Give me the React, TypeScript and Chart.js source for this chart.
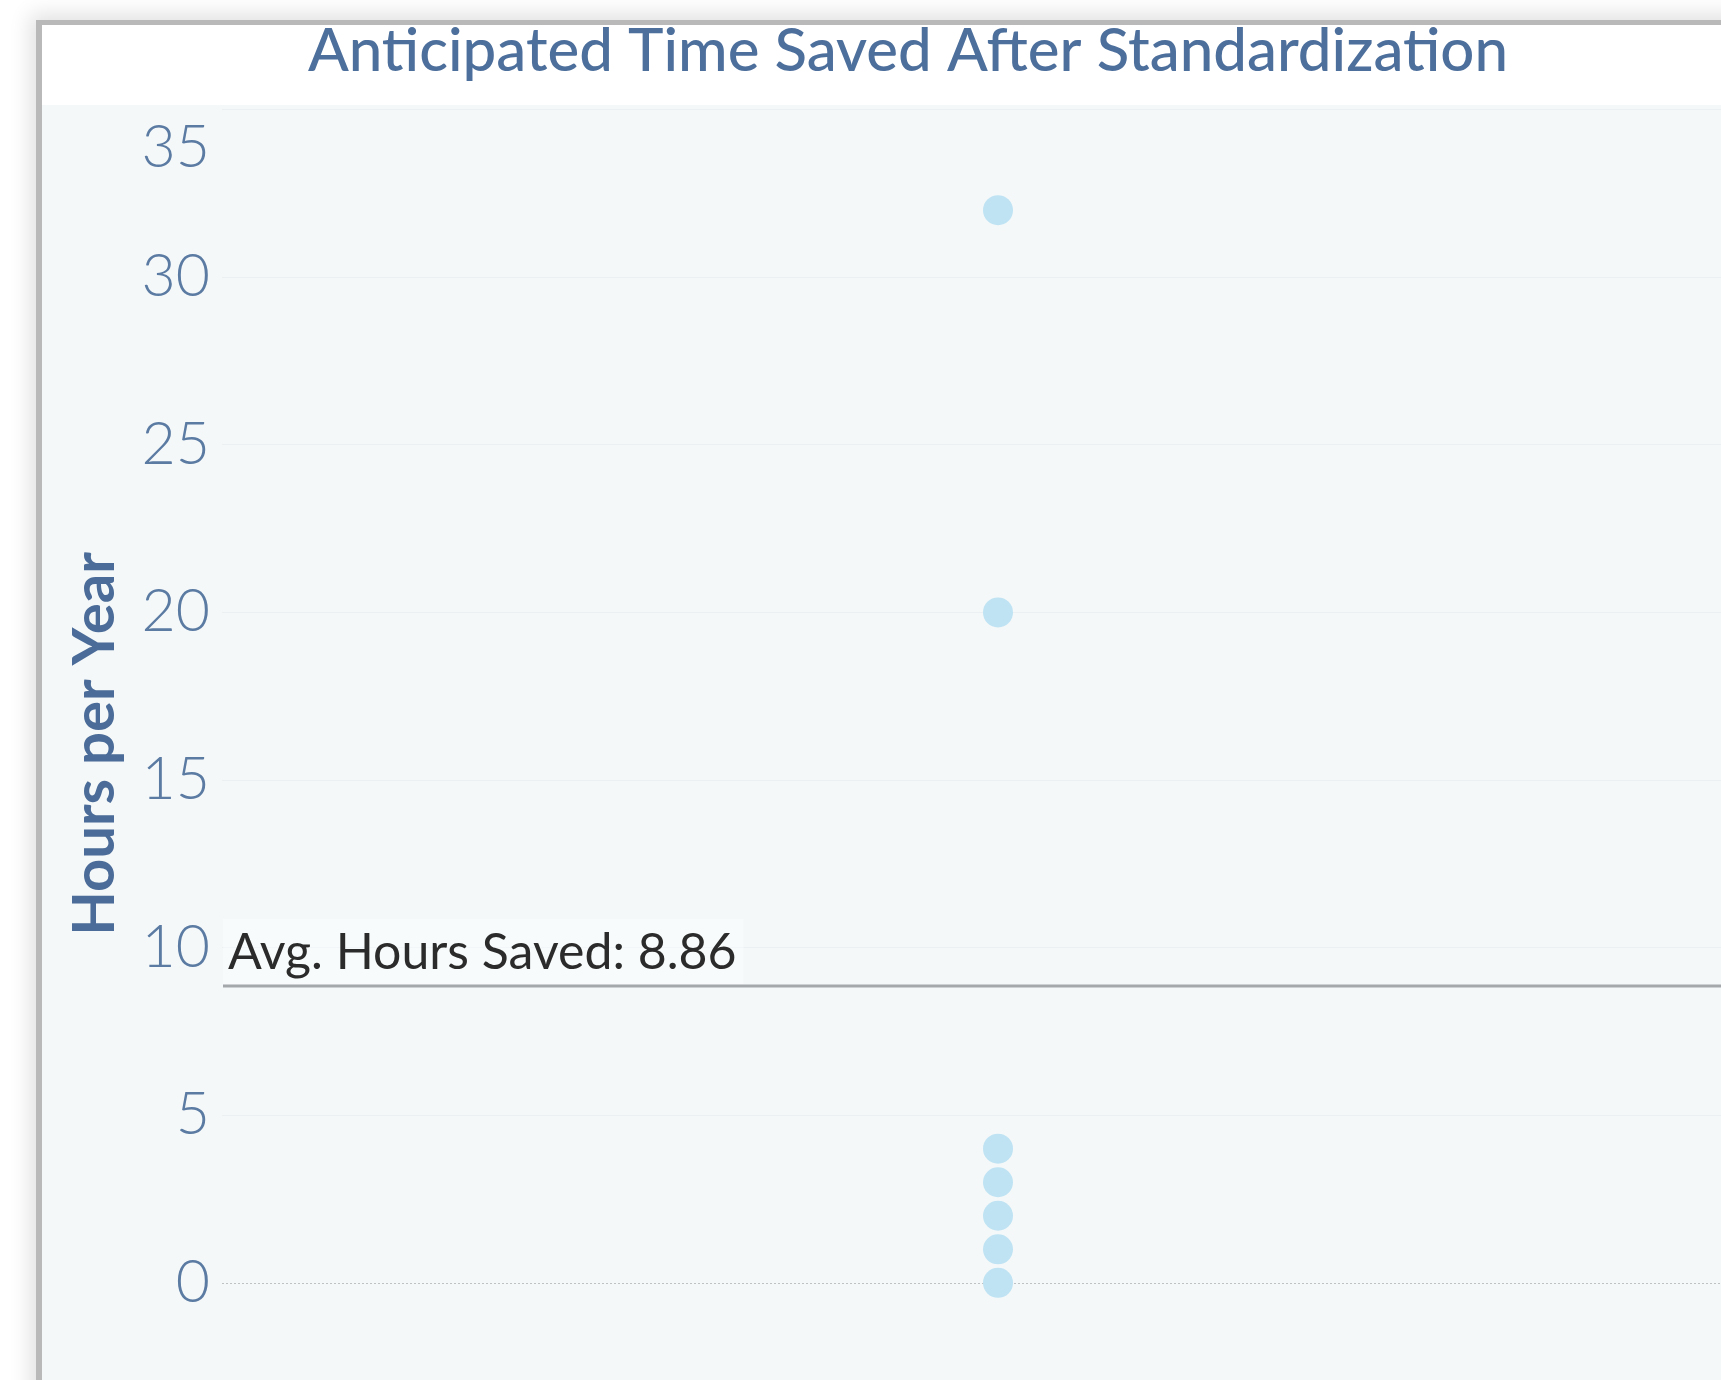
import { useEffect, useRef } from 'react';
import { Chart, registerables } from 'chart.js';

Chart.register(...registerables);

// ---- data ----
const categories = ['All Processes'];
const hoursSaved = [32, 20, 4, 3, 2, 1, 0];
const yTicks = [0, 5, 10, 15, 20, 25, 30, 35];
const yMin = -2.9;
const yMax = 35.05;
const titleText = 'Anticipated Time Saved After Standardization';
const yAxisTitle = 'Hours per Year';
const avgLabelPrefix = 'Avg. Hours Saved: ';

const FONT = 'Lato, "Open Sans", sans-serif';

const avgValue = hoursSaved.reduce((a, b) => a + b, 0) / hoursSaved.length;

const bgPlugin = {
  id: 'bgPlugin',
  beforeDraw(chart: any) {
    const { ctx, width, height, chartArea } = chart;
    ctx.save();
    ctx.fillStyle = '#ffffff';
    ctx.fillRect(0, 0, width, height);
    ctx.fillStyle = '#F4F8F9';
    ctx.fillRect(0, chartArea.top - 3, width, height - chartArea.top + 3);
    ctx.restore();
  },
};

const refLines = {
  id: 'refLines',
  beforeDatasetsDraw(chart: any) {
    const { ctx, chartArea } = chart;
    const y = chart.scales.y;
    ctx.save();
    // zero line (dotted)
    const y0 = Math.round(y.getPixelForValue(0)) + 0.5;
    ctx.strokeStyle = '#bfc2c4';
    ctx.lineWidth = 1;
    ctx.setLineDash([2, 2]);
    ctx.beginPath();
    ctx.moveTo(chartArea.left, y0);
    ctx.lineTo(chartArea.right, y0);
    ctx.stroke();
    // average line
    const ya = y.getPixelForValue(avgValue);
    ctx.setLineDash([]);
    ctx.strokeStyle = '#a4a8ab';
    ctx.lineWidth = 3;
    ctx.beginPath();
    ctx.moveTo(chartArea.left + 1, ya);
    ctx.lineTo(chartArea.right, ya);
    ctx.stroke();
    ctx.restore();
  },
  afterDatasetsDraw(chart: any) {
    const { ctx, chartArea } = chart;
    const y = chart.scales.y;
    const ya = y.getPixelForValue(avgValue);
    const text = avgLabelPrefix + avgValue.toFixed(2);
    ctx.save();
    ctx.font = `400 50px ${FONT}`;
    const w = ctx.measureText(text).width;
    ctx.fillStyle = 'rgba(255,255,255,0.4)';
    ctx.fillRect(chartArea.left + 1, ya - 67, w + 12, 65);
    ctx.fillStyle = '#2b2b2b';
    ctx.textBaseline = 'alphabetic';
    ctx.textAlign = 'left';
    ctx.fillText(text, chartArea.left + 6, ya - 17);
    ctx.restore();
  },
};

export default function App() {
  const ref = useRef<HTMLCanvasElement | null>(null);

  useEffect(() => {
    if (!ref.current) return;
    const chart = new Chart(ref.current, {
      type: 'line',
      data: {
        labels: categories,
        datasets: [
          {
            label: 'Hours per Year',
            data: hoursSaved.map((v) => ({ x: categories[0], y: v })),
            showLine: false,
            pointRadius: 15,
            pointHoverRadius: 15,
            pointBackgroundColor: '#BFE3F3',
            pointBorderWidth: 0,
            pointBorderColor: 'rgba(0,0,0,0)',
          },
        ],
      },
      options: {
        animation: false,
        responsive: false,
        devicePixelRatio: 1,
        layout: { padding: 0, autoPadding: false },
        plugins: {
          legend: { display: false },
          tooltip: { enabled: false },
          title: {
            display: true,
            text: titleText,
            color: '#4D6F9C',
            font: { family: FONT, size: 60, weight: '500', lineHeight: 0.7 },
            padding: { top: 6, bottom: 35 },
          },
        },
        scales: {
          x: {
            type: 'category',
            display: false,
            offset: true,
          },
          y: {
            type: 'linear',
            min: yMin,
            max: yMax,
            afterBuildTicks: (scale: any) => {
              scale.ticks = yTicks.map((v) => ({ value: v }));
            },
            afterFit: (scale: any) => {
              scale.width = 180;
              scale.paddingTop = 0;
              scale.paddingBottom = 0;
            },
            border: { display: false },
            grid: {
              drawTicks: false,
              color: (c: any) => (c.tick && c.tick.value === 0 ? 'rgba(0,0,0,0)' : '#EBF1F3'),
              lineWidth: 1,
            },
            ticks: {
              autoSkip: false,
              padding: 12,
              color: '#5B7BA3',
              font: { family: FONT, size: 59, weight: '300', lineHeight: 1.3 },
              callback: (v: any) => (v === yTicks[yTicks.length - 1] ? ['', String(v)] : String(v)),
            },
            title: {
              display: true,
              text: yAxisTitle,
              color: '#4B6C98',
              font: { family: FONT, size: 58, weight: '700', lineHeight: 1 },
              padding: { top: 24, bottom: 0 },
            },
          },
        },
      },
      plugins: [bgPlugin, refLines],
    } as any);
    return () => chart.destroy();
  }, []);

  return (
    <div style={{ position: 'fixed', inset: 0, overflow: 'hidden', background: '#ffffff' }}>
      <div
        style={{
          position: 'absolute',
          left: 36,
          top: 20,
          width: 1740,
          height: 1400,
          borderTop: '5px solid #b9b9b9',
          borderLeft: '6px solid #b9b9b9',
          boxShadow: '0 0 20px 6px rgba(0,0,0,0.12)',
          background: '#ffffff',
        }}
      >
        <canvas ref={ref} width={1732} height={1355} style={{ display: 'block' }} />
      </div>
    </div>
  );
}
